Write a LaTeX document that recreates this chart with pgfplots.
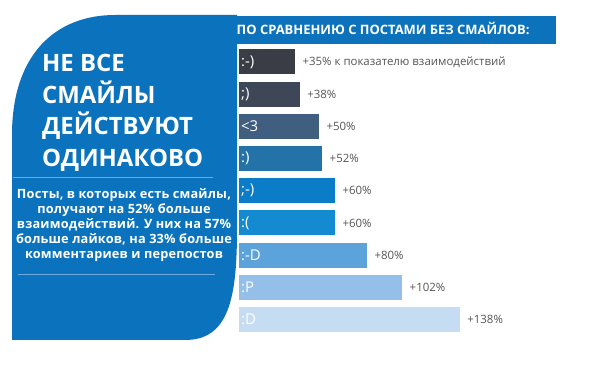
\documentclass[border=0pt]{standalone}
\usepackage{fontspec}
\setmainfont{Open Sans}
\usepackage{pgfplots}
\pgfplotsset{compat=1.18}
\definecolor{blob}{HTML}{0B73BD}
\definecolor{hdr}{HTML}{0B72BB}
\definecolor{sep}{HTML}{6FAADF}
\definecolor{valgray}{HTML}{555555}
\definecolor{c1}{HTML}{3A3D45}
\definecolor{c2}{HTML}{3D4758}
\definecolor{c3}{HTML}{3F5E80}
\definecolor{c4}{HTML}{2373A8}
\definecolor{c5}{HTML}{0A7CC8}
\definecolor{c6}{HTML}{148AD0}
\definecolor{c7}{HTML}{5CA3DB}
\definecolor{c8}{HTML}{93BFE8}
\definecolor{c9}{HTML}{C6DCF2}
\newcommand\mybar[3]{\addplot[xbar, bar shift=0pt, fill=#1, draw=none, nodes near coords={#3}] coordinates {#2};}
\newcommand\myemo[2]{\addplot[only marks, mark=*, mark size=0pt, nodes near coords={#2},
  every node near coord/.style={font=\fontsize{15}{18}\selectfont, text=white, anchor=west, xshift=0pt, inner sep=2bp}] coordinates {#1};}
\begin{document}
\begin{tikzpicture}
\useasboundingbox (0,0) rectangle (591bp,369bp);
\fill[white] (0,0) rectangle (591bp,369bp);
\begin{scope}[x=1bp,y=-1bp,shift={(0bp,369bp)}]
  \fill[blob] (12,340) -- (12,135) .. controls (12,55) and (55,15) .. (115,15) -- (237,15) -- (237,230) .. controls (237,300) and (228,340) .. (185,340) -- cycle;
  \fill[hdr] (233,16) rectangle (556,44);
  \node[anchor=base west, text=white, inner sep=0pt, font=\bfseries\fontsize{13}{15}\selectfont] at (236.5,35) {ПО СРАВНЕНИЮ С ПОСТАМИ БЕЗ СМАЙЛОВ:};
  \begin{scope}[every node/.style={anchor=base west, text=white, inner sep=0pt, font=\bfseries\fontsize{24}{28}\selectfont}]
    \node at (42,72) {НЕ ВСЕ};
    \node at (42,103.5) {СМАЙЛЫ};
    \node at (42,135) {ДЕЙСТВУЮТ};
    \node at (42,166.5) {ОДИНАКОВО};
  \end{scope}
  \draw[sep, line width=0.8bp] (13,177) -- (213,177);
  \draw[sep, line width=0.8bp] (18,274) -- (215,274);
  \begin{scope}[every node/.style={anchor=base, text=white, inner sep=0pt, font=\bfseries\fontsize{12.8}{15}\selectfont\addfontfeature{LetterSpace=1.5}}]
    \node at (124,199) {Посты, в которых есть смайлы,};
    \node at (124,214) {получают на 52\% больше};
    \node at (124,229) {взаимодействий. У них на 57\%};
    \node at (124,244) {больше лайков, на 33\% больше};
    \node at (124,259) {комментариев и перепостов};
  \end{scope}
\end{scope}
\begin{axis}[at={(239bp,33.4bp)}, anchor=south west, scale only axis,
  width=320bp, height=289.7bp, xmin=0, xmax=200, ymin=0.5, ymax=9.5,
  y dir=reverse, hide axis, clip=false, bar width=25bp,
  nodes near coords align={horizontal},
  every node near coord/.style={font=\fontsize{11.5}{13}\selectfont, text=valgray, anchor=west, xshift=4bp}]
\mybar{c1}{(35,1)}{+35\% к показателю взаимодействий}
\mybar{c2}{(38,2)}{+38\%}
\mybar{c3}{(50,3)}{+50\%}
\mybar{c4}{(52,4)}{+52\%}
\mybar{c5}{(60,5)}{+60\%}
\mybar{c6}{(60,6)}{+60\%}
\mybar{c7}{(80,7)}{+80\%}
\mybar{c8}{(102,8)}{+102\%}
\mybar{c9}{(138,9)}{+138\%}
\myemo{(0,1)}{:-)}
\myemo{(0,2)}{;)}
\myemo{(0,3)}{<3}
\myemo{(0,4)}{:)}
\myemo{(0,5)}{;-)}
\myemo{(0,6)}{:(}
\myemo{(0,7)}{:-D}
\myemo{(0,8)}{:P}
\myemo{(0,9)}{:D}
\end{axis}
\end{tikzpicture}
\end{document}
